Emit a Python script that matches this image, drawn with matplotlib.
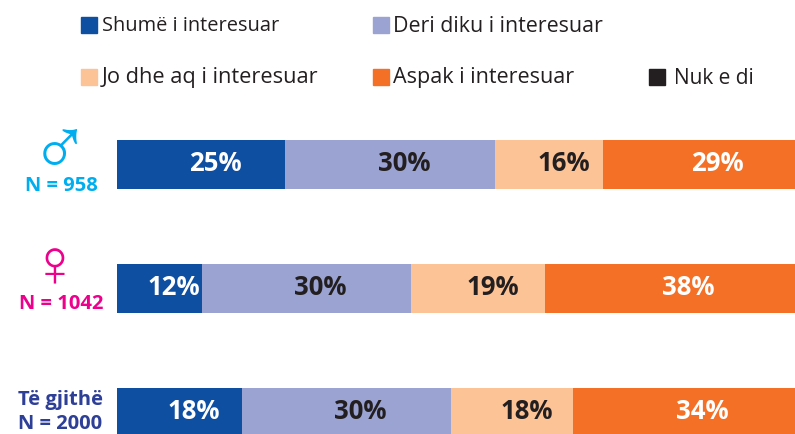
import matplotlib
matplotlib.use("Agg")
import matplotlib.pyplot as plt

W, H = 795, 435

groups = ["N = 958", "N = 1042", "Të gjithë\nN = 2000"]
responses = ["Shumë i interesuar", "Deri diku i interesuar", "Jo dhe aq i interesuar",
             "Aspak i interesuar", "Nuk e di"]
colors = ["#0e4fa1", "#9aa3d1", "#fcc397", "#f47026", "#231f20"]
label_colors = ["white", "#231f20", "#231f20", "white"]

# segment lengths as drawn, printed labels are rounded differently
male = [24.8, 31.0, 15.9, 28.3]
female = [12.5, 30.8, 19.8, 36.9]
everyone = [18.4, 30.8, 18.0, 32.8]
male_labels = ["25%", "30%", "16%", "29%"]
female_labels = ["12%", "30%", "19%", "38%"]
everyone_labels = ["18%", "30%", "18%", "34%"]

plt.rcParams["font.family"] = ["Open Sans", "DejaVu Sans"]


def main():
    fig = plt.figure(figsize=(W / 100, H / 100), dpi=100)
    ax = fig.add_axes([117 / W, 0, 678 / W, 1])
    ax.set_xlim(0, 100)
    ax.set_ylim(H, 0)
    ax.axis("off")

    # labels sit right of the segment centres in the original
    shift = [2.1, 2.1, 2.2, 2.7]
    rows = [(male, male_labels, 164.5), (female, female_labels, 288.5), (everyone, everyone_labels, 412.5)]
    for values, labels, y in rows:
        left = 0
        for i in range(len(values)):
            ax.barh(y + 0.5, values[i], left=left, height=49, color=colors[i], linewidth=0)
            ax.text(left + values[i] / 2 + shift[i], y - 0.5, labels[i], color=label_colors[i], fontsize=18.5,
                    fontweight="bold", ha="center", va="center")
            left += values[i]

    # legend
    box_x = [81, 373, 81, 373, 649]
    text_x = [102, 393, 102, 393, 674]
    box_y = [26, 26, 78, 78, 78]
    sizes = [14.4, 15.4, 15.7, 15.5, 15.0]
    for i in range(len(responses)):
        y = box_y[i]
        fig.patches.append(plt.Rectangle((box_x[i] / W, 1 - (y + 8) / H), 16 / W, 16 / H, color=colors[i],
                                         transform=fig.transFigure))
        fig.text(text_x[i] / W, 1 - y / H, responses[i], fontsize=sizes[i], color="#231f20", va="center")

    # group labels
    fig.text(60 / W, 1 - 154.5 / H, "\u2642", fontsize=58, color="#00aeef", ha="center", va="center",
             family="Liberation Sans")
    fig.text(61.5 / W, 1 - 186 / H, groups[0], fontsize=14.5, color="#00aeef", fontweight="bold", ha="center", va="center")
    fig.text(55 / W, 1 - 269.5 / H, "\u2640", fontsize=48, color="#ec008c", ha="center", va="center",
             family="Liberation Sans")
    fig.text(61.5 / W, 1 - 304 / H, groups[1], fontsize=14.5, color="#ec008c", fontweight="bold", ha="center", va="center")
    fig.text(60 / W, 1 - 412 / H, groups[2], fontsize=14.5, color="#2e3f97", fontweight="bold", ha="center", va="center",
             linespacing=1.3)

    fig.savefig("out.png", dpi=100)


if __name__ == "__main__":
    main()
